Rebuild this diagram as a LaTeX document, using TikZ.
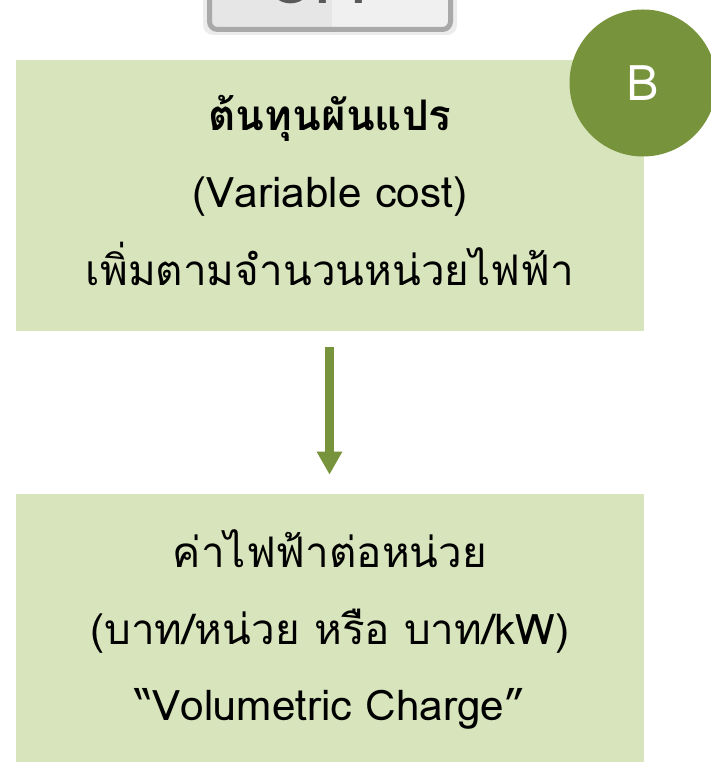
\documentclass[tikz,border=0pt]{standalone}
\usepackage{fontspec}
\setmainfont{Loma}[Script=Thai]
\usepackage{xcolor}
\usepackage{tikz}
\usetikzlibrary{arrows.meta}
\definecolor{lolive}{HTML}{D8E4BC}
\definecolor{olive}{HTML}{77933C}
\definecolor{btnedge}{HTML}{A9A9A9}
\definecolor{btnleft}{HTML}{E6E6E6}
\definecolor{btnright}{HTML}{F0F0F0}
\definecolor{btnglow}{HTML}{ECECEC}
\pgfdeclarelayer{edgelayer}
\pgfdeclarelayer{nodelayer}
\pgfsetlayers{edgelayer,nodelayer,main}
\tikzstyle{panel}=[rectangle,fill=lolive,draw=none,minimum width=12.56cm,inner sep=0pt]
\tikzstyle{line}=[anchor=base,inner sep=0pt,font=\fontsize{24}{28}\selectfont]
\tikzstyle{badge}=[circle,fill=olive,draw=none,minimum size=2.94cm,inner sep=0pt]
\tikzstyle{flow}=[-{Triangle[width=0.48cm,length=0.46cm]},draw=olive,line width=0.18cm,shorten <=0.32cm,shorten >=0.38cm]

\begin{document}
\begin{tikzpicture}
	\useasboundingbox (0,0) rectangle (14.2,15.24);
	\clip (0,0) rectangle (14.2,15.24);
	\begin{pgfonlayer}{edgelayer}
		% cut-off button at the top
		\fill [btnglow, rounded corners=0.2cm] (4.06,14.54) rectangle (9.14,16);
		\fill [btnleft] (4.19,14.65) rectangle (6.64,16);
		\fill [btnright] (6.64,14.65) rectangle (9.01,16);
		\draw [btnedge, line width=0.1cm, rounded corners=0.16cm] (4.19,16) -- (4.19,14.65) -- (9.01,14.65) -- (9.01,16);
		\node [anchor=base, inner sep=0pt, text=black!65, font=\bfseries\fontsize{34}{40}\selectfont] (btn) at (6.55,15.16) {OFF};
	\end{pgfonlayer}
	\begin{pgfonlayer}{nodelayer}
		\node [style = panel, minimum height=5.42cm] (fixed) at (6.6, 11.33) {};
		\node [style = panel, minimum height=5.36cm] (unit) at (6.6, 2.68) {};
		\node [style = badge] (B) at (12.86, 13.58) {};
		\node [text=white, font=\fontsize{28}{32}\selectfont] at (B) {B};

		\node [style = line, font=\bfseries\fontsize{24}{28}\selectfont] (t1) at (6.6, 12.62) {ต้นทุนผันแปร};
		\node [style = line] (t2) at (6.6, 11.08) {(Variable cost)};
		\node [style = line] (t3) at (6.6, 9.52) {เพิ่มตามจำนวนหน่วยไฟฟ้า};

		\node [style = line] (u1) at (6.6, 3.88) {ค่าไฟฟ้าต่อหน่วย};
		\node [style = line] (u2) at (6.6, 2.34) {(บาท/หน่วย หรือ บาท/kW)};
		\node [style = line] (u3) at (6.6, 0.82) {“Volumetric Charge”};
	\end{pgfonlayer}
	\draw [style = flow] (fixed.south -| 6.59,0) to (unit.north -| 6.59,0);
\end{tikzpicture}
\end{document}
